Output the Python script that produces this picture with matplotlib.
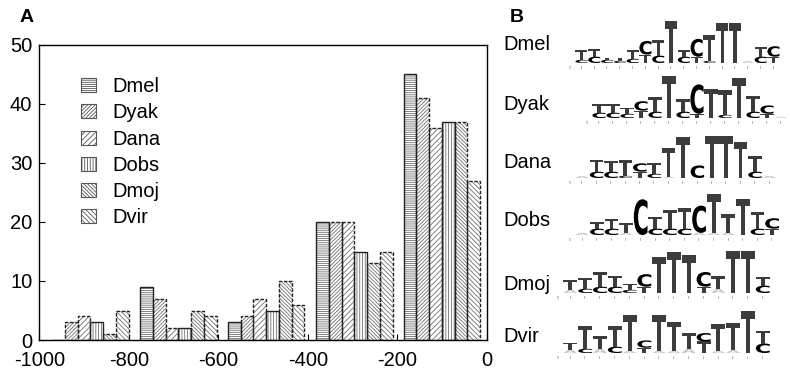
import matplotlib
matplotlib.use("Agg")
import matplotlib.pyplot as plt
import numpy as np
from matplotlib.patches import Patch, PathPatch
from matplotlib.textpath import TextPath
from matplotlib.font_manager import FontProperties
import matplotlib.transforms as mtransforms

plt.rcParams['font.family'] = ['Liberation Sans', 'DejaVu Sans']
plt.rcParams['hatch.linewidth'] = 0.6
plt.rcParams['axes.unicode_minus'] = False

# ---- panel A data: counts per position bin ----
species = ['Dmel', 'Dyak', 'Dana', 'Dobs', 'Dmoj', 'Dvir']
bin_centers = [-886, -689, -493, -296, -100]
counts = {
    'Dmel': [0, 9, 3, 20, 45],
    'Dyak': [3, 7, 4, 20, 41],
    'Dana': [4, 2, 7, 20, 36],
    'Dobs': [3, 2, 5, 15, 37],
    'Dmoj': [1, 5, 10, 13, 37],
    'Dvir': [5, 4, 6, 15, 27],
}
hatches = ['-' * 8, '/' * 9, '/' * 6, '|' * 6, '\\' * 9, '\\' * 7]

# ---- panel B data: logo columns (letter, bits), bottom to top ----
logos = {
    'Dmel': [[('C', 0.15), ('T', 0.45)], [('C', 0.3), ('T', 0.35)], [('C', 0.15), ('T', 0.1)],
             [('C', 0.1), ('T', 0.15)], [('C', 0.2), ('T', 0.4)], [('T', 0.4), ('C', 0.65)],
             [('C', 0.35), ('T', 0.75)], [('T', 2.0)], [('C', 0.3), ('T', 0.3)],
             [('T', 0.3), ('C', 0.85)], [('C', 0.1), ('T', 1.25)], [('T', 1.9)], [('T', 1.9)],
             [('A', 0.1)], [('C', 0.3), ('T', 0.45)], [('T', 0.3), ('C', 0.5)]],
    'Dyak': [[('C', 0.25), ('T', 0.4)], [('C', 0.25), ('T', 0.4)], [('C', 0.2), ('T', 0.3)],
             [('T', 0.35), ('C', 0.45)], [('C', 0.3), ('T', 0.7)], [('T', 2.0)],
             [('C', 0.3), ('T', 0.6)], [('T', 0.2), ('C', 1.4)], [('T', 1.4)],
             [('C', 0.15), ('T', 1.2)], [('T', 1.9)], [('C', 0.3), ('T', 0.75)],
             [('T', 0.2), ('C', 0.4)], [('A', 0.06)]],
    'Dana': [[('A', 0.1)], [('C', 0.3), ('T', 0.55)], [('C', 0.3), ('T', 0.5)],
             [('C', 0.1), ('T', 0.75)], [('T', 0.3), ('C', 0.4)], [('C', 0.2), ('T', 0.5)],
             [('A', 0.05), ('T', 1.4)], [('T', 1.95)], [('C', 0.6)], [('T', 2.0)],
             [('T', 2.0)], [('T', 1.7)], [('C', 0.3), ('T', 0.75)], [('A', 0.1)]],
    'Dobs': [[('A', 0.1)], [('C', 0.3), ('T', 0.3)], [('C', 0.3), ('T', 0.45)],
             [('A', 0.1), ('T', 0.45)], [('C', 1.7)], [('C', 0.3), ('T', 0.55)],
             [('C', 0.3), ('T', 0.9)], [('C', 0.3), ('T', 1.0)], [('A', 0.1), ('C', 1.3)],
             [('A', 0.1), ('T', 1.85)], [('A', 0.1), ('T', 0.9)], [('T', 1.7)],
             [('C', 0.3), ('T', 0.8)], [('T', 0.3), ('C', 0.5)]],
    'Dmoj': [[('A', 0.15), ('T', 0.45)], [('C', 0.2), ('T', 0.5)], [('C', 0.3), ('T', 0.7)],
             [('C', 0.3), ('T', 0.5)], [('C', 0.15), ('T', 0.3)], [('T', 0.3), ('C', 0.6)],
             [('T', 1.7)], [('T', 1.95)], [('T', 1.8)], [('T', 0.3), ('C', 0.7)],
             [('A', 0.2), ('T', 0.6)], [('T', 2.0)], [('T', 2.0)], [('C', 0.35), ('T', 0.4)]],
    'Dvir': [[('A', 0.15), ('T', 0.35)], [('C', 0.2), ('T', 1.1)], [('A', 0.2), ('T', 0.6)],
             [('C', 0.3), ('T', 1.0)], [('A', 0.1), ('T', 1.7)], [('T', 0.25), ('C', 0.35)],
             [('A', 0.1), ('T', 1.7)], [('A', 0.1), ('T', 1.4)], [('A', 0.2), ('T', 0.75)],
             [('T', 0.55), ('C', 0.4)], [('A', 0.1), ('T', 1.3)], [('A', 0.15), ('T', 1.3)],
             [('T', 2.0)], [('C', 0.45), ('T', 0.6)]],
}

# logo placement in pixels: x start, column width, baseline
logo_pos = {'Dmel': (575, 12.8, 63), 'Dyak': (592, 14.0, 118), 'Dana': (575, 14.4, 178),
            'Dobs': (575, 14.6, 235), 'Dmoj': (563, 14.8, 293), 'Dvir': (563, 14.8, 353)}
label_y = {'Dmel': 45, 'Dyak': 105, 'Dana': 162, 'Dobs': 220, 'Dmoj': 285, 'Dvir': 336}
letter_col = {'T': '#3c3c3c', 'C': '#000000', 'A': '#c8c8c8', 'G': '#c8c8c8'}

fig = plt.figure(figsize=(7.9, 3.78), dpi=100)

# ---------------- panel A ----------------
ax = fig.add_axes([39.3/790, 1-340/378, (486.7-39.3)/790, (340-45)/378])
width = 28.5
for i, sp in enumerate(species):
    xs = np.array(bin_centers) + (i-2.5)*width
    ls = '-' if sp in ('Dmel', 'Dobs') else (0, (2.5, 1.2))
    ax.bar(xs, counts[sp], width=width, color='white', edgecolor='#707070',
           hatch=hatches[i], linewidth=0, zorder=2)
    ax.bar(xs, counts[sp], width=width, fill=False, edgecolor='#222222',
           linewidth=1.0, linestyle=ls, zorder=3)

ax.set_xlim(-1000, 0)
ax.set_ylim(0, 50)
ax.set_xticks(np.arange(-1000, 1, 200))
ax.set_yticks(np.arange(0, 51, 10))
ax.tick_params(direction='in', length=4, labelsize=14.5)
ax.tick_params(axis='x', pad=8)
ax.tick_params(axis='y', pad=5)
for s in ax.spines.values():
    s.set_linewidth(1.0)

handles = [Patch(facecolor='white', edgecolor='#555555', hatch=hatches[i], linewidth=0.8)
           for i in range(len(species))]
ax.legend(handles, species, loc='upper left', bbox_to_anchor=(0.076, 0.918), frameon=False,
          fontsize=14.5, handlelength=0.75, handleheight=0.7, handletextpad=0.8,
          labelspacing=0.36, borderaxespad=0)

fig.text(20/790, 1-18/378, 'A', fontsize=14, fontweight='bold', va='center', ha='left')
fig.text(510/790, 1-18/378, 'B', fontsize=14, fontweight='bold', va='center', ha='left')

# ---------------- panel B ----------------
axb = fig.add_axes([495/790, 0, 295/790, 1])
axb.set_xlim(495, 790)
axb.set_ylim(378, 0)
axb.axis('off')

fp = FontProperties(family='DejaVu Sans', weight='bold')
bit_px = 21.0


def draw_letter(a, ch, x, y, w, h, color):
    tp = TextPath((0, 0), ch, size=1, prop=fp)
    bb = tp.get_extents()
    tr = mtransforms.Affine2D().translate(-bb.x0, -bb.y0).scale(w/bb.width, -h/bb.height) \
        .translate(x, y) + a.transData
    a.add_patch(PathPatch(tp, transform=tr, fc=color, ec='none'))


for sp in species:
    axb.text(503, label_y[sp], sp, fontsize=14.5, va='center', ha='left')
    x0, cw, base = logo_pos[sp]
    for j, col in enumerate(logos[sp]):
        y = base
        for ch, bits in col:
            h = bits*bit_px
            draw_letter(axb, ch, x0 + j*cw + 0.4, y, cw*0.94, h, letter_col[ch])
            y -= h
        # tiny position marks under the logo
        axb.plot([x0 + j*cw + cw*0.45]*2, [base+3, base+5], color='#aaaaaa', lw=0.6)
    axb.text(x0 - 6, base + 6, "5'", fontsize=3, color='#888888')

fig.savefig('out.png', dpi=100)
